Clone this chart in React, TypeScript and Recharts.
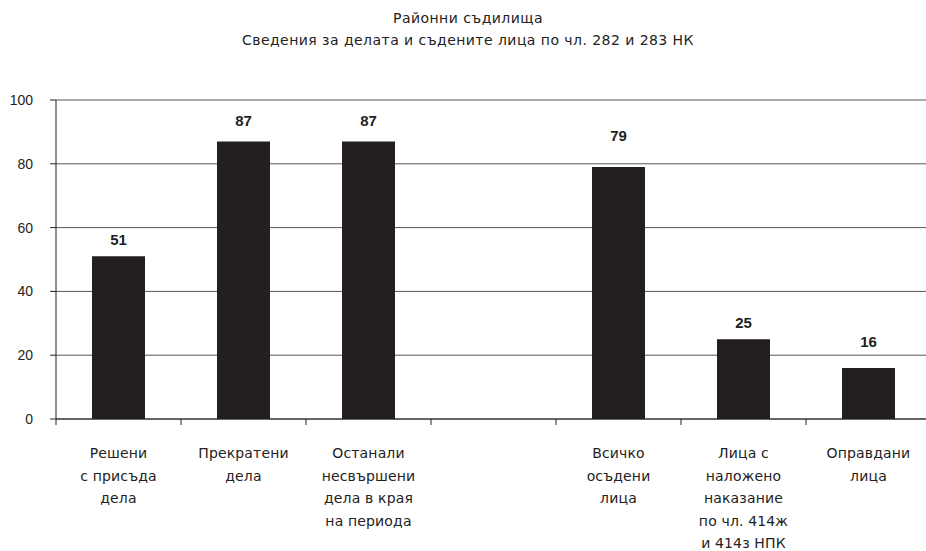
import React from "react";
import { BarChart, Bar, XAxis, YAxis, CartesianGrid, LabelList } from "recharts";

const titleLines = ["Районни съдилища", "Сведения за делата и съдените лица по чл. 282 и 283 НК"];

const categories = ["resheni", "prekrateni", "ostanali", "blank", "osadeni", "nakazanie", "opravdani"];

const categoryLabels = [
  ["Решени", "с присъда", "дела"],
  ["Прекратени", "дела"],
  ["Останали", "несвършени", "дела в края", "на периода"],
  [],
  ["Всичко", "осъдени", "лица"],
  ["Лица с", "наложено", "наказание", "по чл. 414ж", "и 414з НПК"],
  ["Оправдани", "лица"],
];

const values = [51, 87, 87, null, 79, 25, 16];

const yTicks = [0, 20, 40, 60, 80, 100];

// gap between bar top and the middle of its value label, as placed in the original
const labelGap = [17, 21, 21, 0, 31, 17, 26];

const data = categories.map((c, i) => ({ name: c, value: values[i] }));

const W = 940;
const H = 551;
const M = { top: 100, right: 9, left: 0, bottom: 0 };
const Y_W = 56;
const X_H = 132;
const BAND = (W - M.left - M.right - Y_W) / categories.length;
const FONT = "'Liberation Sans', Arial, sans-serif";
const WIDE = "'DejaVu Sans', sans-serif";
const INK = "#231f20";

function CategoryTick(props: any) {
  const { x, y, index } = props;
  const lines = categoryLabels[index] || [];
  const left = x - BAND / 2;
  return (
    <g>
      <line x1={left} y1={y} x2={left} y2={y + 6} stroke="#222" strokeWidth={1} />
      <text x={x} y={y + 39} textAnchor="middle" fontSize={14} letterSpacing={0.15} fill="#222" fontFamily={WIDE}>
        {lines.map((l, i) => (
          <tspan key={i} x={x} dy={i === 0 ? 0 : 22.6}>
            {l}
          </tspan>
        ))}
      </text>
    </g>
  );
}

function ValueLabel(props: any) {
  const { x, y, width, value } = props;
  const i = categories.indexOf(value);
  const v = values[i];
  if (v == null) return null;
  return (
    <text
      x={x + width / 2}
      y={y - labelGap[i] + 5.4}
      textAnchor="middle"
      fontSize={15}
      fontWeight="bold"
      fill={INK}
      fontFamily={FONT}
    >
      {v}
    </text>
  );
}

export default function App() {
  return (
    <div style={{ position: "absolute", left: 0, top: 0, width: 926, height: 551, overflow: "hidden", background: "#fff" }}>
      <svg width={926} height={60} style={{ position: "absolute", left: 0, top: 0 }}>
        {titleLines.map((t, i) => (
          <text key={i} x={468} y={23 + i * 22} textAnchor="middle" fontSize={14} letterSpacing={0.45} fill="#222" fontFamily={WIDE}>
            {t}
          </text>
        ))}
      </svg>
      <div style={{ position: "absolute", left: 0, top: 0 }}>
        <BarChart width={W} height={H} data={data} margin={M} barCategoryGap="0%">
          <CartesianGrid vertical={false} stroke="#555" strokeWidth={1} />
          <XAxis
            dataKey="name"
            height={X_H}
            interval={0}
            tickSize={0}
            tickMargin={0}
            tickLine={false}
            axisLine={{ stroke: "#222" }}
            tick={<CategoryTick />}
          />
          <YAxis
            width={Y_W}
            domain={[0, 100]}
            ticks={yTicks}
            interval={0}
            tickSize={6}
            tickMargin={17}
            axisLine={{ stroke: "#222" }}
            tickLine={{ stroke: "#222" }}
            tick={{ fontSize: 14, fill: "#222", fontFamily: FONT }}
          />
          <Bar dataKey="value" fill={INK} barSize={53} isAnimationActive={false}>
            <LabelList dataKey="name" content={<ValueLabel />} />
          </Bar>
        </BarChart>
      </div>
    </div>
  );
}
